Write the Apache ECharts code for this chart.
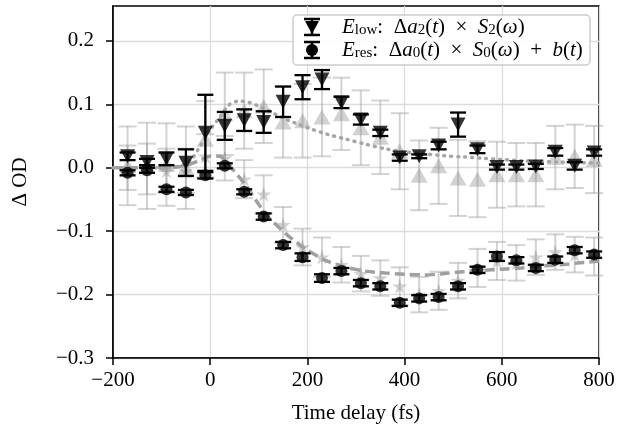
<!DOCTYPE html>
<html>
<head>
<meta charset="utf-8">
<script src="https://cdn.jsdelivr.net/npm/echarts@6/dist/echarts.min.js"></script>
<style>html,body{margin:0;padding:0;background:#fff}#c{width:634px;height:433px}</style>
</head>
<body>
<div id="c"></div>
<script>
// ---- data ----
const times = [-170,-130,-90,-50,-10,30,70,110,150,190,230,270,310,350,390,430,470,510,550,590,630,670,710,750,790];

// E_low (black down triangles)
const lowVal = [0.018,0.009,0.014,0.008,0.055,0.066,0.075,0.072,0.104,0.127,0.139,0.103,0.076,0.055,0.016,0.018,0.035,0.068,0.029,0.001,0.001,0.002,0.025,0.003,0.024];
const lowErr = [0.006,0.005,0.010,0.021,0.060,0.022,0.017,0.017,0.024,0.019,0.015,0.009,0.008,0.005,0.005,0.003,0.006,0.019,0.006,0.004,0.004,0.004,0.006,0.006,0.005];

// E_res (black circles)
const resVal = [-0.008,-0.004,-0.034,-0.039,-0.012,0.003,-0.038,-0.077,-0.122,-0.141,-0.174,-0.163,-0.182,-0.187,-0.213,-0.206,-0.204,-0.187,-0.161,-0.140,-0.146,-0.158,-0.145,-0.130,-0.137];
const resErr = [0.004,0.004,0.004,0.004,0.005,0.004,0.004,0.005,0.005,0.006,0.006,0.005,0.005,0.005,0.005,0.005,0.005,0.005,0.005,0.007,0.005,0.005,0.005,0.005,0.005];

// grey up-triangles (reference, E_low)
const refLowVal = [0.003,0.003,0.005,0.000,0.045,0.085,0.090,0.097,0.072,0.074,0.080,0.085,0.063,0.048,0.026,-0.012,0.003,-0.016,-0.018,-0.011,-0.011,-0.011,0.016,0.018,0.013];
const refLowErr = [0.062,0.068,0.065,0.065,0.060,0.065,0.060,0.058,0.056,0.058,0.062,0.057,0.059,0.058,0.060,0.055,0.060,0.060,0.060,0.052,0.050,0.050,0.050,0.050,0.053];

// grey stars (reference, E_res)
const refResVal = [0.000,-0.002,-0.005,-0.005,0.018,0.015,-0.018,-0.042,-0.090,-0.125,-0.141,-0.153,-0.167,-0.174,-0.187,-0.200,-0.194,-0.178,-0.158,-0.147,-0.150,-0.141,-0.133,-0.137,-0.140];
const refResErr = [0.035,0.040,0.035,0.035,0.035,0.035,0.030,0.030,0.028,0.029,0.031,0.028,0.028,0.028,0.030,0.028,0.030,0.028,0.030,0.030,0.028,0.028,0.028,0.028,0.030];

// fit curves
const fitT = [-200,-150,-100,-60,-40,-20,0,20,40,60,80,100,120,140,160,180,200,240,280,320,360,400,440,480,520,560,600,640,680,720,760,800];
const fitLow = [0.000,0.000,0.000,0.003,0.012,0.035,0.060,0.080,0.100,0.105,0.103,0.097,0.090,0.082,0.075,0.069,0.063,0.053,0.045,0.037,0.030,0.025,0.022,0.019,0.017,0.015,0.013,0.011,0.010,0.009,0.008,0.007];
const fitRes = [0.000,0.000,0.000,0.002,0.006,0.012,0.018,0.018,0.003,-0.015,-0.035,-0.058,-0.078,-0.093,-0.107,-0.119,-0.130,-0.147,-0.157,-0.163,-0.166,-0.168,-0.169,-0.167,-0.164,-0.162,-0.160,-0.158,-0.155,-0.153,-0.150,-0.147];

const xTicks = [-200,0,200,400,600,800];
const yTicks = [-0.3,-0.2,-0.1,0.0,0.1,0.2];

// ---- helpers ----
const FONT = 'Liberation Serif';
function trip(v, e){ return times.map((t,i)=>[t, v[i], e[i]]); }
function pair(xs, ys){ return xs.map((t,i)=>[t, ys[i]]); }
function errRender(color, lw, capHalf){
  return function(params, api){
    const x = api.value(0), y = api.value(1), e = api.value(2);
    const a = api.coord([x, y + e]), b = api.coord([x, y - e]);
    const st = {stroke: color, lineWidth: lw, fill: null};
    return {type:'group', children:[
      {type:'line', shape:{x1:a[0], y1:a[1], x2:b[0], y2:b[1]}, style:st},
      {type:'line', shape:{x1:a[0]-capHalf, y1:a[1], x2:a[0]+capHalf, y2:a[1]}, style:st},
      {type:'line', shape:{x1:b[0]-capHalf, y1:b[1], x2:b[0]+capHalf, y2:b[1]}, style:st}
    ]};
  };
}
const minus = s => s.replace('-', '\u2212');
const STAR = 'path://M0,-1 L0.2245,-0.309 L0.951,-0.309 L0.363,0.118 L0.588,0.809 L0,0.382 L-0.588,0.809 L-0.363,0.118 L-0.951,-0.309 L-0.2245,-0.309 Z';

const greyBar = 'rgba(150,150,150,0.42)';
const greyMark = 'rgba(130,130,130,0.45)';

const chart = echarts.init(document.getElementById('c'));
const rich = {
  i:{fontFamily:FONT, fontStyle:'italic', fontSize:21, color:'#000'},
  r:{fontFamily:FONT, fontSize:21, color:'#000'},
  s:{fontFamily:FONT, fontSize:15, color:'#000', verticalAlign:'bottom'}
};
function legendMarker(cx, cy, kind){
  const st = {stroke:'#000', lineWidth:2.5};
  const children = [
    {type:'line', z:101, shape:{x1:cx, y1:cy-8, x2:cx, y2:cy+8}, style:st},
    {type:'line', z:101, shape:{x1:cx-8, y1:cy-8, x2:cx+8, y2:cy-8}, style:st},
    {type:'line', z:101, shape:{x1:cx-8, y1:cy+8, x2:cx+8, y2:cy+8}, style:st}
  ];
  if(kind==='tri'){
    children.push({type:'polygon', z:102, shape:{points:[[cx-7,cy-6],[cx+7,cy-6],[cx,cy+7]]}, style:{fill:'#000'}});
  } else {
    children.push({type:'circle', z:102, shape:{cx:cx, cy:cy, r:6}, style:{fill:'#000'}});
  }
  return children;
}

chart.setOption({
  animation:false,
  backgroundColor:'#fff',
  grid:{left:113, right:35, top:6, bottom:75, show:true, borderColor:'#000', borderWidth:1.6, backgroundColor:'transparent'},
  xAxis:{
    type:'value', min:-200, max:800, interval:200,
    name:'Time delay (fs)', nameLocation:'middle', nameGap:45,
    nameTextStyle:{fontFamily:FONT, fontSize:21, color:'#000'},
    axisLine:{show:true, onZero:false, lineStyle:{color:'#000', width:1.6}},
    axisTick:{show:true, length:7, lineStyle:{color:'#000', width:1.5}},
    axisLabel:{fontFamily:FONT, fontSize:21, color:'#000', margin:12, formatter:v=>minus(String(v))},
    splitLine:{show:true, lineStyle:{color:'#dcdcdc', width:1.3}}
  },
  yAxis:{
    type:'value', min:-0.3, max:0.255,
    name:'\u0394 OD', nameLocation:'middle', nameGap:82, nameRotate:90,
    nameTextStyle:{fontFamily:FONT, fontSize:21, color:'#000'},
    axisLine:{show:true, onZero:false, lineStyle:{color:'#000', width:1.6}},
    axisTick:{show:true, length:7, lineStyle:{color:'#000', width:1.5}, customValues:yTicks},
    axisLabel:{fontFamily:FONT, fontSize:21, color:'#000', margin:19, customValues:yTicks, formatter:v=>minus(v.toFixed(1))},
    splitLine:{show:true, lineStyle:{color:'#dcdcdc', width:1.3}}
  },
  series:[
    {type:'custom', renderItem:errRender(greyBar, 2, 9), data:trip(refLowVal, refLowErr), z:1, encode:{x:0,y:1}},
    {type:'custom', renderItem:errRender(greyBar, 2, 9), data:trip(refResVal, refResErr), z:1, encode:{x:0,y:1}},
    {type:'scatter', data:pair(times, refLowVal), symbol:'triangle', symbolSize:[17,15], itemStyle:{color:greyMark}, z:2},
    {type:'scatter', data:pair(times, refResVal), symbol:STAR, symbolSize:15, itemStyle:{color:greyMark}, z:2},
    {type:'line', data:pair(fitT, fitLow), showSymbol:false, symbol:'none', smooth:0.3, lineStyle:{color:'#a6a6a6', width:3.5, type:[1,6], cap:'round'}, z:3},
    {type:'line', data:pair(fitT, fitRes), showSymbol:false, symbol:'none', smooth:0.3, lineStyle:{color:'#a0a0a0', width:3.5, type:[10,5]}, z:3},
    {type:'custom', renderItem:errRender('#000', 2.3, 8), data:trip(lowVal, lowErr), z:4, encode:{x:0,y:1}},
    {type:'custom', renderItem:errRender('#000', 2.3, 8), data:trip(resVal, resErr), z:4, encode:{x:0,y:1}},
    {type:'scatter', data:pair(times, lowVal), symbol:'triangle', symbolRotate:180, symbolSize:[15,14], itemStyle:{color:'#000'}, z:5},
    {type:'scatter', data:pair(times, resVal), symbol:'circle', symbolSize:12, itemStyle:{color:'#000'}, z:5}
  ],
  graphic:[
    {type:'rect', z:99, shape:{x:293, y:15, width:297, height:50, r:4}, style:{fill:'rgba(255,255,255,0.85)', stroke:'#cccccc', lineWidth:1.5}},
    ...legendMarker(312, 27, 'tri'),
    ...legendMarker(312, 50, 'circ'),
    {type:'text', z:103, x:342, y:27, style:{text:'{i|E}{s|low}{r|:  \u0394}{i|a}{s|2}{r|(}{i|t}{r|)  \u00d7  }{i|S}{s|2}{r|(}{i|\u03c9}{r|)}', rich:rich, verticalAlign:'middle'}},
    {type:'text', z:103, x:342, y:50, style:{text:'{i|E}{s|res}{r|:  \u0394}{i|a}{s|0}{r|(}{i|t}{r|)  \u00d7  }{i|S}{s|0}{r|(}{i|\u03c9}{r|)  +  }{i|b}{r|(}{i|t}{r|)}', rich:rich, verticalAlign:'middle'}}
  ]
});
</script>
</body>
</html>
